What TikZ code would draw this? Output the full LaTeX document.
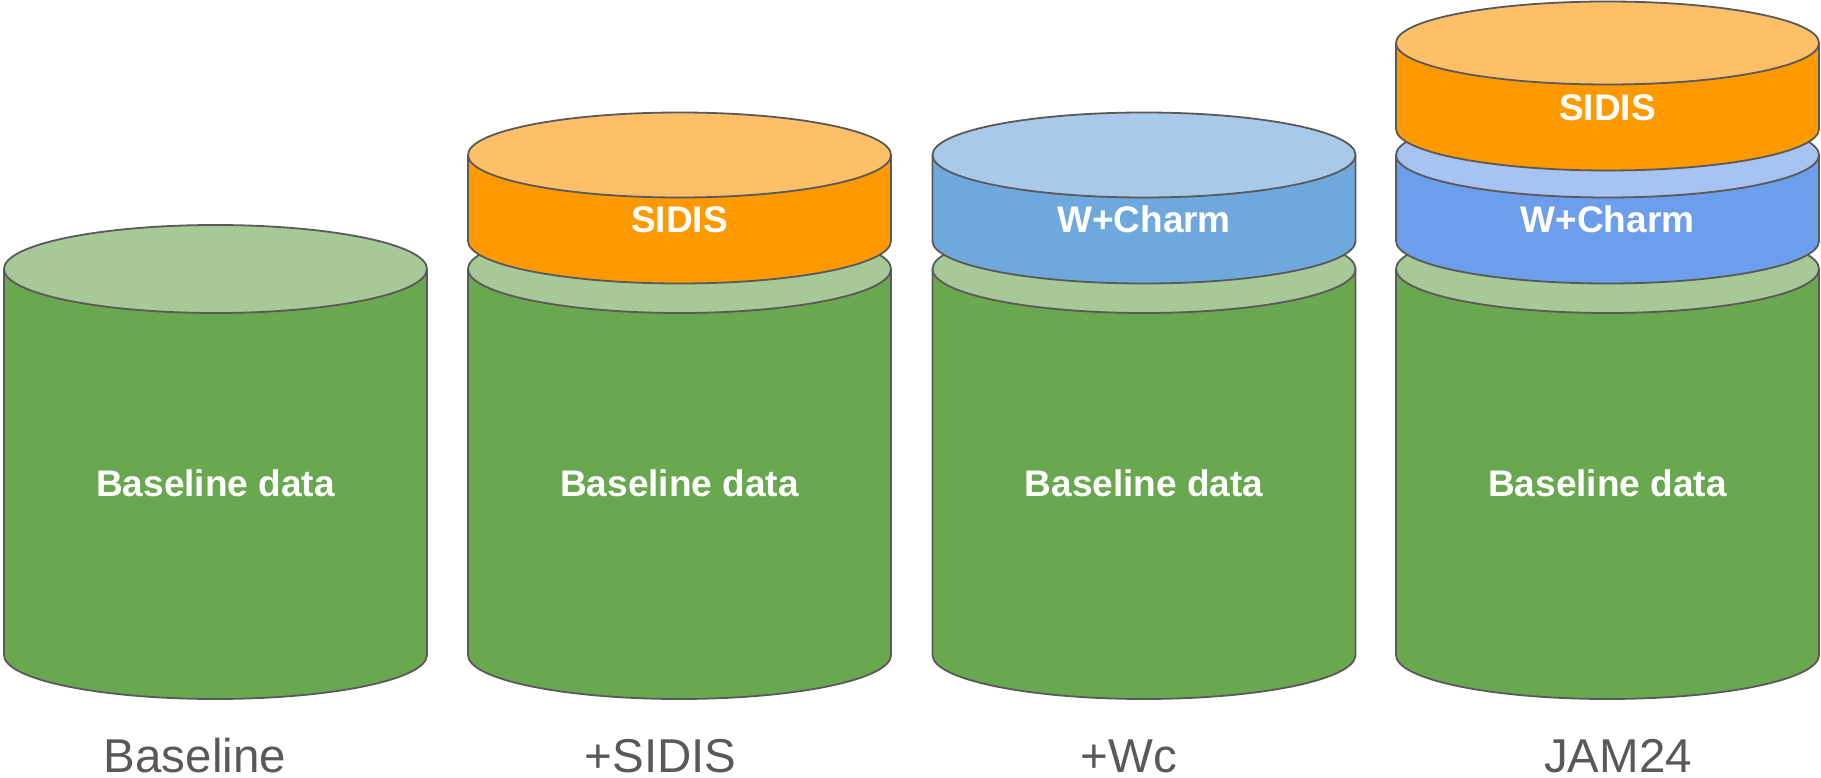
\documentclass[tikz,border=0pt]{standalone}
\usepackage{fontspec}
\setmainfont{Liberation Sans}

\definecolor{rimgray}{HTML}{595959}
\definecolor{capgray}{HTML}{595959}
\definecolor{greenbody}{HTML}{6AA84F}
\definecolor{greenlid}{HTML}{A6C997}
\definecolor{orangebody}{HTML}{FF9900}
\definecolor{orangelid}{HTML}{FDC068}
\definecolor{skybody}{HTML}{6FA8DC}
\definecolor{skylid}{HTML}{A8C9EA}
\definecolor{bluebody}{HTML}{6D9EEB}
\definecolor{bluelid}{HTML}{A6C3F1}

\tikzset{
  rim/.style={draw=rimgray, line width=1.8pt, line join=round},
  inlabel/.style={text=white, font=\bfseries\fontsize{37}{40}\selectfont,
                  anchor=base, inner sep=0pt},
  caption/.style={text=capgray, font=\fontsize{47.5}{50}\selectfont,
                  anchor=base, inner sep=0pt, text depth=0pt},
}

% one slab of a stacked cylinder:
% #1 centre x, #2 lid centre y, #3 base centre y, #4 ellipse half-height,
% #5 side colour, #6 lid colour
\newcommand\datalayer[6]{%
  \fill[#5] (#1-211.5,#2) -- (#1-211.5,#3)
     arc[start angle=180, end angle=0, x radius=211.5, y radius=#4]
     -- (#1+211.5,#2) -- cycle;
  \draw[rim] (#1-211.5,#2) -- (#1-211.5,#3)
     arc[start angle=180, end angle=0, x radius=211.5, y radius=#4]
     -- (#1+211.5,#2);
  \filldraw[rim, fill=#6] (#1,#2) ellipse[x radius=211.5, y radius=#4];
}

\begin{document}
\begin{tikzpicture}[x=1pt, y=-1pt]
  \useasboundingbox (0,0) rectangle (1821,778);

  % Baseline
  \datalayer{215.5}{269}{655}{44}{greenbody}{greenlid}
  \node[inlabel] (bd1) at (215.5,496.7) {Baseline data};
  \node[caption] (cap1) at (195,772.5) {Baseline};

  % +SIDIS
  \datalayer{679.5}{269}{655}{44}{greenbody}{greenlid}
  \datalayer{679.5}{155}{241}{42.5}{orangebody}{orangelid}
  \node[inlabel] (bd2) at (679.5,496.7) {Baseline data};
  \node[inlabel] (sidis2) at (679.5,233) {SIDIS};
  \node[caption] (cap2) at (660.5,772.5) {+SIDIS};

  % +Wc
  \datalayer{1144}{269}{655}{44}{greenbody}{greenlid}
  \datalayer{1144}{155}{241}{42.5}{skybody}{skylid}
  \node[inlabel] (bd3) at (1144,496.7) {Baseline data};
  \node[inlabel] (wc3) at (1144,232.7) {W+Charm};
  \node[caption] (cap3) at (1129,772.5) {+Wc};

  % JAM24
  \datalayer{1607.5}{269}{655}{44}{greenbody}{greenlid}
  \datalayer{1607.5}{155}{241}{42.5}{bluebody}{bluelid}
  \datalayer{1607.5}{43}{129}{41.5}{orangebody}{orangelid}
  \node[inlabel] (bd4) at (1607.5,496.7) {Baseline data};
  \node[inlabel] (wc4) at (1607.5,232.7) {W+Charm};
  \node[inlabel] (sidis4) at (1607.5,120.7) {SIDIS};
  \node[caption] (cap4) at (1618,772.5) {JAM24};
\end{tikzpicture}
\end{document}
